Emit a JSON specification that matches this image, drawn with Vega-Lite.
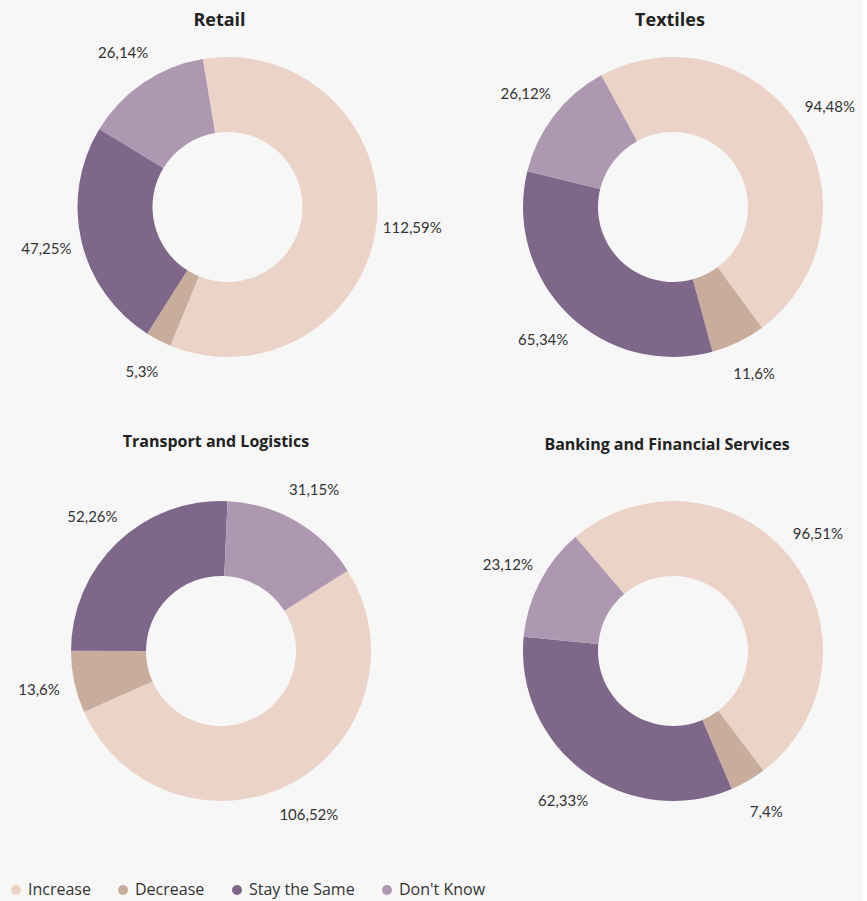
{
  "$schema": "https://vega.github.io/schema/vega-lite/v6.json",
  "background": "#f7f7f7",
  "padding": {"left": 0, "top": 12, "right": 0, "bottom": 0},
  "datasets": {
    "survey": [
      {"sector": "Retail", "answer": "Increase", "k": 1, "value": 112.59, "label": "112,59%"},
      {"sector": "Retail", "answer": "Decrease", "k": 2, "value": 5.3, "label": "5,3%"},
      {"sector": "Retail", "answer": "Stay the Same", "k": 3, "value": 47.25, "label": "47,25%"},
      {"sector": "Retail", "answer": "Don't Know", "k": 4, "value": 26.14, "label": "26,14%"},
      {"sector": "Textiles", "answer": "Increase", "k": 1, "value": 94.48, "label": "94,48%"},
      {"sector": "Textiles", "answer": "Decrease", "k": 2, "value": 11.6, "label": "11,6%"},
      {"sector": "Textiles", "answer": "Stay the Same", "k": 3, "value": 65.34, "label": "65,34%"},
      {"sector": "Textiles", "answer": "Don't Know", "k": 4, "value": 26.12, "label": "26,12%"},
      {"sector": "Transport and Logistics", "answer": "Increase", "k": 1, "value": 106.52, "label": "106,52%"},
      {"sector": "Transport and Logistics", "answer": "Decrease", "k": 2, "value": 13.6, "label": "13,6%"},
      {"sector": "Transport and Logistics", "answer": "Stay the Same", "k": 3, "value": 52.26, "label": "52,26%"},
      {"sector": "Transport and Logistics", "answer": "Don't Know", "k": 4, "value": 31.15, "label": "31,15%"},
      {"sector": "Banking and Financial Services", "answer": "Increase", "k": 1, "value": 96.51, "label": "96,51%"},
      {"sector": "Banking and Financial Services", "answer": "Decrease", "k": 2, "value": 7.4, "label": "7,4%"},
      {"sector": "Banking and Financial Services", "answer": "Stay the Same", "k": 3, "value": 62.33, "label": "62,33%"},
      {"sector": "Banking and Financial Services", "answer": "Don't Know", "k": 4, "value": 23.12, "label": "23,12%"}
    ]
  },
  "data": {"name": "survey"},
  "spacing": 51,
  "resolve": {"scale": {"theta": "independent", "color": "shared"}, "legend": {"color": "shared"}},
  "vconcat": [
    {
      "bounds": "flush",
      "spacing": 28,
      "resolve": {"scale": {"theta": "independent", "color": "shared"}},
      "hconcat": [
        {
          "title": {"text": "Retail", "fontSize": 18, "offset": 12, "dx": -8},
          "width": 455, "height": 330,
          "transform": [{"filter": "datum.sector === 'Retail'"}],
          "encoding": {
            "theta": {"field": "value", "type": "quantitative", "stack": true, "scale": {"range": [-0.1658, 6.1174], "nice": false}},
            "order": {"field": "k", "type": "quantitative"}
          },
          "layer": [
            {"mark": {"type": "arc", "outerRadius": 150, "innerRadius": 75},
             "encoding": {"color": {"field": "answer", "type": "nominal", "title": null,
               "scale": {"domain": ["Increase", "Decrease", "Stay the Same", "Don't Know"], "range": ["#ecd3c8", "#c8ad9c", "#7e6789", "#ae97b0"]}}}},
            {"mark": {"type": "text", "radius": 186, "fontSize": 15, "color": "#333333"},
             "encoding": {"text": {"field": "label", "type": "nominal"}}}
          ]
        },
        {
          "title": {"text": "Textiles", "fontSize": 18, "offset": 12, "dx": -3},
          "width": 380, "height": 330,
          "transform": [{"filter": "datum.sector === 'Textiles'"}],
          "encoding": {
            "theta": {"field": "value", "type": "quantitative", "stack": true, "scale": {"range": [-0.4992, 5.784], "nice": false}},
            "order": {"field": "k", "type": "quantitative"}
          },
          "layer": [
            {"mark": {"type": "arc", "outerRadius": 150, "innerRadius": 75},
             "encoding": {"color": {"field": "answer", "type": "nominal", "title": null,
               "scale": {"domain": ["Increase", "Decrease", "Stay the Same", "Don't Know"], "range": ["#ecd3c8", "#c8ad9c", "#7e6789", "#ae97b0"]}}}},
            {"mark": {"type": "text", "radius": 186, "fontSize": 15, "color": "#333333"},
             "encoding": {"text": {"field": "label", "type": "nominal"}}}
          ]
        }
      ]
    },
    {
      "bounds": "flush",
      "spacing": 41,
      "resolve": {"scale": {"theta": "independent", "color": "shared"}},
      "hconcat": [
        {
          "title": {"text": "Transport and Logistics", "fontSize": 16, "offset": 33, "frame": "group", "dx": -5},
          "width": 442, "height": 330,
          "transform": [{"filter": "datum.sector === 'Transport and Logistics'"}],
          "encoding": {
            "theta": {"field": "value", "type": "quantitative", "stack": true, "scale": {"range": [1.0053, 7.2885], "nice": false}},
            "order": {"field": "k", "type": "quantitative"}
          },
          "layer": [
            {"mark": {"type": "arc", "outerRadius": 150, "innerRadius": 75},
             "encoding": {"color": {"field": "answer", "type": "nominal", "title": null,
               "scale": {"domain": ["Increase", "Decrease", "Stay the Same", "Don't Know"], "range": ["#ecd3c8", "#c8ad9c", "#7e6789", "#ae97b0"]}}}},
            {"mark": {"type": "text", "radius": 186, "fontSize": 15, "color": "#333333"},
             "encoding": {"text": {"field": "label", "type": "nominal"}}}
          ]
        },
        {
          "title": {"text": "Banking and Financial Services", "fontSize": 16, "offset": 33, "frame": "group", "dx": -6},
          "width": 380, "height": 330,
          "transform": [{"filter": "datum.sector === 'Banking and Financial Services'"}],
          "encoding": {
            "theta": {"field": "value", "type": "quantitative", "stack": true, "scale": {"range": [-0.7086, 5.5746], "nice": false}},
            "order": {"field": "k", "type": "quantitative"}
          },
          "layer": [
            {"mark": {"type": "arc", "outerRadius": 150, "innerRadius": 75},
             "encoding": {"color": {"field": "answer", "type": "nominal", "title": null,
               "scale": {"domain": ["Increase", "Decrease", "Stay the Same", "Don't Know"], "range": ["#ecd3c8", "#c8ad9c", "#7e6789", "#ae97b0"]}}}},
            {"mark": {"type": "text", "radius": 186, "fontSize": 15, "color": "#333333"},
             "encoding": {"text": {"field": "label", "type": "nominal"}}}
          ]
        }
      ]
    }
  ],
  "config": {
    "font": "Lato",
    "view": {"stroke": null},
    "title": {"font": "Open Sans", "fontWeight": "bold", "color": "#222222", "anchor": "middle"},
    "legend": {
      "orient": "bottom", "direction": "horizontal", "symbolType": "circle", "symbolSize": 100,
      "labelFontSize": 16, "labelFont": "Open Sans", "labelColor": "#333333", "columnPadding": 24,
      "symbolOpacity": 1, "symbolStrokeWidth": 0, "labelOffset": 4, "offset": 51, "padding": 8
    }
  }
}
